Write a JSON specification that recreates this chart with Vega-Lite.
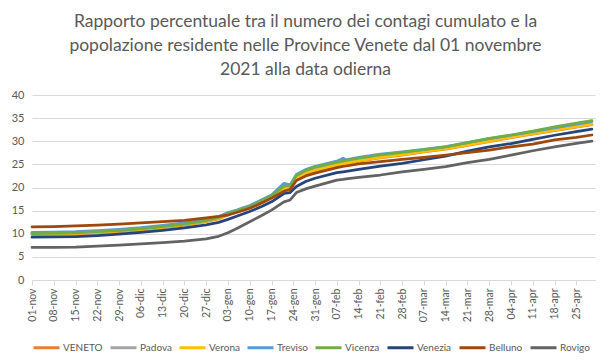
{
  "$schema": "https://vega.github.io/schema/vega-lite/v6.json",
  "autosize": "none",
  "width": 563,
  "height": 185,
  "padding": {"left": 32, "top": 95, "right": 15, "bottom": 83},
  "background": "white",
  "title": {
    "text": ["Rapporto percentuale tra il numero dei contagi cumulato e la", "popolazione residente nelle Province Venete dal 01 novembre", "2021 alla data odierna"],
    "anchor": "middle",
    "frame": "group",
    "dx": -8,
    "font": "Lato",
    "fontSize": 17.5,
    "fontWeight": "normal",
    "color": "#595959",
    "lineHeight": 24,
    "offset": 11
  },
  "data": {
    "values": [
      {"data": "2021-11-01", "VENETO": 9.85, "Padova": 10.1, "Verona": 9.95, "Treviso": 10.3, "Vicenza": 10.05, "Venezia": 9.25, "Belluno": 11.5, "Rovigo": 7.05},
      {"data": "2021-11-08", "VENETO": 9.9, "Padova": 10.15, "Verona": 10.0, "Treviso": 10.35, "Vicenza": 10.1, "Venezia": 9.3, "Belluno": 11.55, "Rovigo": 7.05},
      {"data": "2021-11-15", "VENETO": 10.0, "Padova": 10.25, "Verona": 10.1, "Treviso": 10.45, "Vicenza": 10.2, "Venezia": 9.4, "Belluno": 11.7, "Rovigo": 7.1},
      {"data": "2021-11-22", "VENETO": 10.2, "Padova": 10.5, "Verona": 10.3, "Treviso": 10.7, "Vicenza": 10.45, "Venezia": 9.6, "Belluno": 11.85, "Rovigo": 7.3},
      {"data": "2021-11-29", "VENETO": 10.45, "Padova": 10.75, "Verona": 10.55, "Treviso": 10.95, "Vicenza": 10.7, "Venezia": 9.9, "Belluno": 12.1, "Rovigo": 7.55},
      {"data": "2021-12-06", "VENETO": 10.8, "Padova": 11.1, "Verona": 10.9, "Treviso": 11.3, "Vicenza": 11.05, "Venezia": 10.3, "Belluno": 12.35, "Rovigo": 7.8},
      {"data": "2021-12-13", "VENETO": 11.3, "Padova": 11.6, "Verona": 11.4, "Treviso": 11.8, "Vicenza": 11.55, "Venezia": 10.75, "Belluno": 12.6, "Rovigo": 8.1},
      {"data": "2021-12-20", "VENETO": 11.85, "Padova": 12.15, "Verona": 11.95, "Treviso": 12.35, "Vicenza": 12.1, "Venezia": 11.25, "Belluno": 12.9, "Rovigo": 8.4},
      {"data": "2021-12-27", "VENETO": 12.6, "Padova": 12.85, "Verona": 12.7, "Treviso": 13.05, "Vicenza": 12.85, "Venezia": 11.9, "Belluno": 13.45, "Rovigo": 8.9},
      {"data": "2021-12-31", "VENETO": 13.2, "Padova": 13.45, "Verona": 13.3, "Treviso": 13.7, "Vicenza": 13.5, "Venezia": 12.45, "Belluno": 13.75, "Rovigo": 9.45},
      {"data": "2022-01-03", "VENETO": 14.1, "Padova": 14.3, "Verona": 14.2, "Treviso": 14.6, "Vicenza": 14.4, "Venezia": 13.1, "Belluno": 14.05, "Rovigo": 10.2},
      {"data": "2022-01-06", "VENETO": 14.7, "Padova": 14.9, "Verona": 14.8, "Treviso": 15.2, "Vicenza": 15.0, "Venezia": 13.85, "Belluno": 14.65, "Rovigo": 11.2},
      {"data": "2022-01-10", "VENETO": 15.55, "Padova": 15.75, "Verona": 15.65, "Treviso": 16.1, "Vicenza": 15.9, "Venezia": 14.8, "Belluno": 15.5, "Rovigo": 12.6},
      {"data": "2022-01-14", "VENETO": 16.8, "Padova": 17.0, "Verona": 16.9, "Treviso": 17.4, "Vicenza": 17.2, "Venezia": 15.95, "Belluno": 16.7, "Rovigo": 14.0},
      {"data": "2022-01-17", "VENETO": 17.8, "Padova": 18.0, "Verona": 17.9, "Treviso": 18.4, "Vicenza": 18.2, "Venezia": 16.9, "Belluno": 17.7, "Rovigo": 15.1},
      {"data": "2022-01-21", "VENETO": 19.75, "Padova": 20.0, "Verona": 19.85, "Treviso": 20.9, "Vicenza": 20.3, "Venezia": 18.7, "Belluno": 19.2, "Rovigo": 16.9},
      {"data": "2022-01-23", "VENETO": 19.9, "Padova": 20.2, "Verona": 20.0, "Treviso": 20.6, "Vicenza": 20.4, "Venezia": 18.9, "Belluno": 19.6, "Rovigo": 17.3},
      {"data": "2022-01-25", "VENETO": 21.9, "Padova": 22.2, "Verona": 22.0, "Treviso": 22.8, "Vicenza": 22.6, "Venezia": 20.2, "Belluno": 21.5, "Rovigo": 18.9},
      {"data": "2022-01-28", "VENETO": 22.9, "Padova": 23.2, "Verona": 23.0, "Treviso": 23.9, "Vicenza": 23.7, "Venezia": 21.3, "Belluno": 22.5, "Rovigo": 19.7},
      {"data": "2022-01-31", "VENETO": 23.6, "Padova": 23.9, "Verona": 23.7, "Treviso": 24.6, "Vicenza": 24.4, "Venezia": 22.0, "Belluno": 23.1, "Rovigo": 20.3},
      {"data": "2022-02-07", "VENETO": 24.75, "Padova": 25.0, "Verona": 24.85, "Treviso": 25.7, "Vicenza": 25.5, "Venezia": 23.2, "Belluno": 24.3, "Rovigo": 21.6},
      {"data": "2022-02-09", "VENETO": 25.0, "Padova": 25.25, "Verona": 25.1, "Treviso": 26.3, "Vicenza": 25.75, "Venezia": 23.4, "Belluno": 24.55, "Rovigo": 21.75},
      {"data": "2022-02-10", "VENETO": 25.1, "Padova": 25.35, "Verona": 25.2, "Treviso": 26.0, "Vicenza": 25.85, "Venezia": 23.5, "Belluno": 24.65, "Rovigo": 21.85},
      {"data": "2022-02-14", "VENETO": 25.7, "Padova": 25.9, "Verona": 25.8, "Treviso": 26.5, "Vicenza": 26.35, "Venezia": 23.9, "Belluno": 25.1, "Rovigo": 22.2},
      {"data": "2022-02-21", "VENETO": 26.4, "Padova": 26.6, "Verona": 26.5, "Treviso": 27.2, "Vicenza": 27.05, "Venezia": 24.6, "Belluno": 25.6, "Rovigo": 22.7},
      {"data": "2022-02-28", "VENETO": 27.0, "Padova": 27.2, "Verona": 27.1, "Treviso": 27.7, "Vicenza": 27.6, "Venezia": 25.2, "Belluno": 26.1, "Rovigo": 23.4},
      {"data": "2022-03-07", "VENETO": 27.7, "Padova": 27.9, "Verona": 27.8, "Treviso": 28.25, "Vicenza": 28.2, "Venezia": 26.0, "Belluno": 26.5, "Rovigo": 23.9},
      {"data": "2022-03-14", "VENETO": 28.3, "Padova": 28.5, "Verona": 28.4, "Treviso": 28.85, "Vicenza": 28.8, "Venezia": 26.8, "Belluno": 27.0, "Rovigo": 24.5},
      {"data": "2022-03-21", "VENETO": 29.1, "Padova": 29.3, "Verona": 29.2, "Treviso": 29.7, "Vicenza": 29.7, "Venezia": 27.85, "Belluno": 27.55, "Rovigo": 25.4},
      {"data": "2022-03-28", "VENETO": 29.9, "Padova": 30.1, "Verona": 30.0, "Treviso": 30.55, "Vicenza": 30.6, "Venezia": 28.8, "Belluno": 28.1, "Rovigo": 26.1},
      {"data": "2022-04-04", "VENETO": 30.8, "Padova": 30.95, "Verona": 30.9, "Treviso": 31.3, "Vicenza": 31.35, "Venezia": 29.5, "Belluno": 28.8, "Rovigo": 27.0},
      {"data": "2022-04-11", "VENETO": 31.55, "Padova": 31.7, "Verona": 31.65, "Treviso": 32.1, "Vicenza": 32.2, "Venezia": 30.4, "Belluno": 29.4, "Rovigo": 27.95},
      {"data": "2022-04-18", "VENETO": 32.3, "Padova": 32.5, "Verona": 32.4, "Treviso": 32.9, "Vicenza": 33.1, "Venezia": 31.3, "Belluno": 30.3, "Rovigo": 28.8},
      {"data": "2022-04-25", "VENETO": 33.05, "Padova": 33.2, "Verona": 33.15, "Treviso": 33.7, "Vicenza": 33.9, "Venezia": 32.1, "Belluno": 30.85, "Rovigo": 29.55},
      {"data": "2022-04-30", "VENETO": 33.6, "Padova": 33.7, "Verona": 33.7, "Treviso": 34.25, "Vicenza": 34.45, "Venezia": 32.6, "Belluno": 31.35, "Rovigo": 30.05}
    ]
  },
  "transform": [
    {"fold": ["VENETO", "Padova", "Verona", "Treviso", "Vicenza", "Venezia", "Belluno", "Rovigo"], "as": ["serie", "valore"]}
  ],
  "mark": {"type": "line", "strokeWidth": 2.75, "strokeJoin": "round", "strokeCap": "round"},
  "encoding": {
    "x": {
      "field": "data",
      "type": "temporal",
      "timeUnit": "utcyearmonthdate",
      "scale": {"domain": [{"year": 2021, "month": 11, "date": 1, "utc": true}, {"year": 2022, "month": 5, "date": 1, "utc": true}]},
      "axis": {
        "title": null,
        "format": "%d-%b",
        "values": [
          {"year": 2021, "month": 11, "date": 1, "utc": true},
          {"year": 2021, "month": 11, "date": 8, "utc": true},
          {"year": 2021, "month": 11, "date": 15, "utc": true},
          {"year": 2021, "month": 11, "date": 22, "utc": true},
          {"year": 2021, "month": 11, "date": 29, "utc": true},
          {"year": 2021, "month": 12, "date": 6, "utc": true},
          {"year": 2021, "month": 12, "date": 13, "utc": true},
          {"year": 2021, "month": 12, "date": 20, "utc": true},
          {"year": 2021, "month": 12, "date": 27, "utc": true},
          {"year": 2022, "month": 1, "date": 3, "utc": true},
          {"year": 2022, "month": 1, "date": 10, "utc": true},
          {"year": 2022, "month": 1, "date": 17, "utc": true},
          {"year": 2022, "month": 1, "date": 24, "utc": true},
          {"year": 2022, "month": 1, "date": 31, "utc": true},
          {"year": 2022, "month": 2, "date": 7, "utc": true},
          {"year": 2022, "month": 2, "date": 14, "utc": true},
          {"year": 2022, "month": 2, "date": 21, "utc": true},
          {"year": 2022, "month": 2, "date": 28, "utc": true},
          {"year": 2022, "month": 3, "date": 7, "utc": true},
          {"year": 2022, "month": 3, "date": 14, "utc": true},
          {"year": 2022, "month": 3, "date": 21, "utc": true},
          {"year": 2022, "month": 3, "date": 28, "utc": true},
          {"year": 2022, "month": 4, "date": 4, "utc": true},
          {"year": 2022, "month": 4, "date": 11, "utc": true},
          {"year": 2022, "month": 4, "date": 18, "utc": true},
          {"year": 2022, "month": 4, "date": 25, "utc": true}
        ],
        "labelAngle": 270,
        "labelAlign": "right",
        "labelBaseline": "middle",
        "labelPadding": 3,
        "labelFont": "Lato",
        "labelFontSize": 10.5,
        "labelColor": "#595959",
        "labelOverlap": false,
        "labelFlush": false,
        "grid": false,
        "domainColor": "#d9d9d9",
        "tickColor": "#d9d9d9",
        "tickSize": 5
      }
    },
    "y": {
      "field": "valore",
      "type": "quantitative",
      "scale": {"domain": [0, 40], "nice": false, "zero": true},
      "axis": {
        "title": null,
        "values": [0, 5, 10, 15, 20, 25, 30, 35, 40],
        "domain": false,
        "ticks": false,
        "labelPadding": 8,
        "labelFont": "Lato",
        "labelFontSize": 11,
        "labelColor": "#595959",
        "gridColor": "#d9d9d9",
        "gridWidth": 1
      }
    },
    "color": {
      "field": "serie",
      "type": "nominal",
      "scale": {
        "domain": ["VENETO", "Padova", "Verona", "Treviso", "Vicenza", "Venezia", "Belluno", "Rovigo"],
        "range": ["#ED7D31", "#A5A5A5", "#FFC000", "#5B9BD5", "#70AD47", "#264478", "#9E480E", "#636363"]
      },
      "legend": {
        "title": null,
        "orient": "none",
        "legendX": 0,
        "legendY": 238,
        "direction": "horizontal",
        "columns": 8,
        "symbolType": "stroke",
        "symbolSize": 676,
        "symbolStrokeWidth": 3,
        "labelFont": "Lato",
        "labelFontSize": 10,
        "labelColor": "#595959",
        "labelOffset": 2,
        "columnPadding": 1
      }
    }
  },
  "config": {
    "view": {"stroke": null},
    "locale": {
      "time": {
        "dateTime": "%A %e %B %Y, %X",
        "date": "%d/%m/%Y",
        "time": "%H:%M:%S",
        "periods": ["AM", "PM"],
        "days": ["domenica", "lunedì", "martedì", "mercoledì", "giovedì", "venerdì", "sabato"],
        "shortDays": ["dom", "lun", "mar", "mer", "gio", "ven", "sab"],
        "months": ["gennaio", "febbraio", "marzo", "aprile", "maggio", "giugno", "luglio", "agosto", "settembre", "ottobre", "novembre", "dicembre"],
        "shortMonths": ["gen", "feb", "mar", "apr", "mag", "giu", "lug", "ago", "set", "ott", "nov", "dic"]
      }
    }
  }
}
